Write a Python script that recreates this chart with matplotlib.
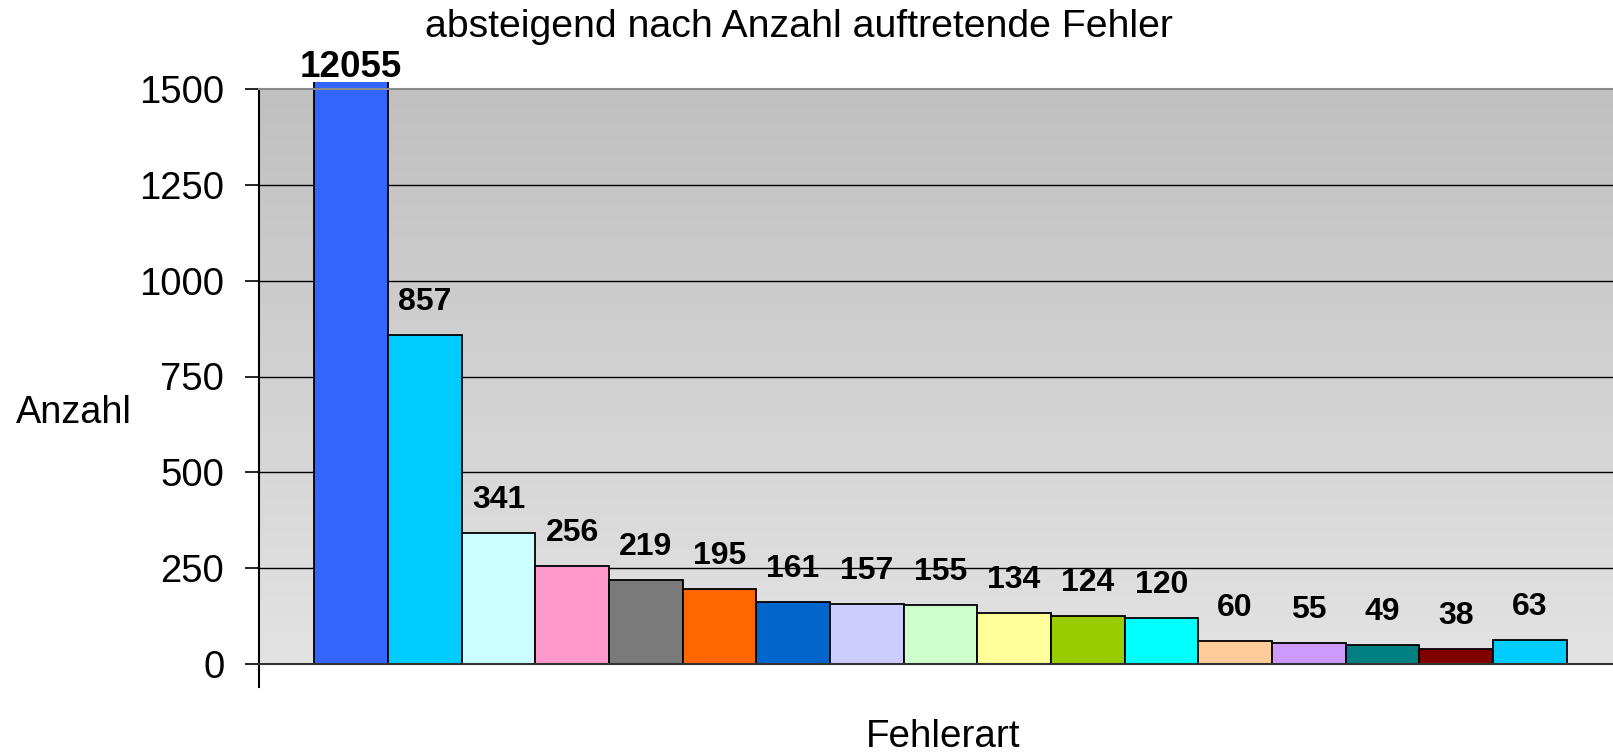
import matplotlib
matplotlib.use("Agg")
import matplotlib.pyplot as plt
import numpy as np
from matplotlib.patches import Rectangle
from matplotlib.colors import LinearSegmentedColormap

plt.rcParams['font.family'] = ['Liberation Sans', 'DejaVu Sans']

title = "absteigend nach Anzahl auftretende Fehler"
ylabel = "Anzahl"
xlabel = "Fehlerart"
values = [12055, 857, 341, 256, 219, 195, 161, 157, 155, 134, 124, 120, 60, 55, 49, 38, 63]
colors = ["#3366FF", "#00CCFF", "#CCFFFF", "#FF99CC", "#7A7A7A", "#FF6600", "#0066CC",
          "#CCCCFF", "#CCFFCC", "#FFFF99", "#99CC00", "#00FFFF", "#FFCC99", "#CC99FF",
          "#008080", "#800000", "#00CCFF"]
yticks = [0, 250, 500, 750, 1000, 1250, 1500]

W, H = 1613, 755
fig = plt.figure(figsize=(W / 100, H / 100), dpi=100)
ax = fig.add_axes([259 / W, (H - 664) / H, 1 - 259 / W, (664 - 89) / H])

ymax = yticks[-1]
ax.set_ylim(0, ymax)
ax.set_xlim(-1.25, len(values) - 0.5 + 0.63)

# gradient background
grad = np.linspace(0, 1, 256).reshape(-1, 1)
cmap = LinearSegmentedColormap.from_list("bg", ["#E3E3E3", "#C0C0C0"])
ax.imshow(grad, aspect='auto', cmap=cmap, origin='lower',
          extent=[0, 1, 0, 1], transform=ax.transAxes, zorder=0)

for t in yticks[1:-1]:
    ax.axhline(t, color='black', lw=1.0, zorder=1)

x = np.arange(len(values))
bars = ax.bar(x, values, width=1.0, color=colors, edgecolor='black', linewidth=1.3, zorder=2)
clip = Rectangle((0, 0), 1, 1.013, transform=ax.transAxes)
for b in bars:
    b.set_clip_path(clip)

for i, v in enumerate(values):
    if v > ymax:
        ax.annotate(str(v), xy=(i, ymax), xytext=(0, 3), textcoords='offset points',
                    ha='center', va='bottom', fontsize=26.5, fontweight='bold',
                    annotation_clip=False)
    else:
        ax.annotate(str(v), xy=(i, v), xytext=(0, 18), textcoords='offset points',
                    ha='center', va='baseline', fontsize=23, fontweight='bold')

ax.set_yticks(yticks)
ax.set_yticklabels([str(t) for t in yticks], fontsize=27.5)
ax.tick_params(axis='y', length=10, width=1.2, pad=15, color='black')
ax.set_xticks([])

ax.spines['right'].set_visible(False)
ax.spines['top'].set_color('#8C8C8C')
ax.spines['top'].set_linewidth(1.5)
ax.spines['bottom'].set_color('#333333')
ax.spines['bottom'].set_linewidth(1.5)
ax.spines['left'].set_linewidth(1.5)
ax.plot([0, 0], [-0.04, 0], transform=ax.transAxes, color='black', lw=1.5, clip_on=False)

fig.text(799 / W, 1 - 37 / H, title, ha='center', va='baseline', fontsize=28.3)
fig.text(74 / W, 1 - 423 / H, ylabel, ha='center', va='baseline', fontsize=27.3)
fig.text(943 / W, 1 - 747 / H, xlabel, ha='center', va='baseline', fontsize=27.8)

fig.savefig("out.png", dpi=100)
